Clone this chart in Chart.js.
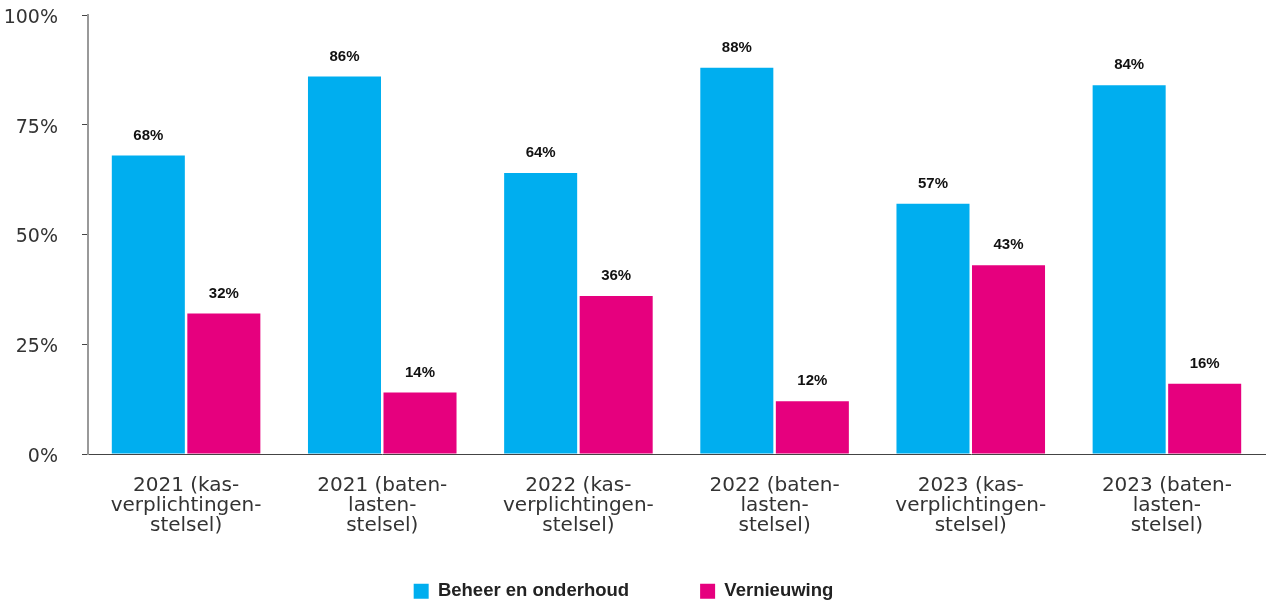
<!DOCTYPE html>
<html>
<head>
<meta charset="utf-8">
<script src="https://cdn.jsdelivr.net/npm/chart.js@4"></script>
<style>
  html, body { margin: 0; padding: 0; background: #fff; }
  #wrap { width: 1269px; height: 603px; position: relative; }
</style>
</head>
<body>
<div id="wrap"><canvas id="chart"></canvas></div>
<script>
const categories = [
    ['2021 (kas-', 'verplichtingen-', 'stelsel)'],
    ['2021 (baten-', 'lasten-', 'stelsel)'],
    ['2022 (kas-', 'verplichtingen-', 'stelsel)'],
    ['2022 (baten-', 'lasten-', 'stelsel)'],
    ['2023 (kas-', 'verplichtingen-', 'stelsel)'],
    ['2023 (baten-', 'lasten-', 'stelsel)']
];
const seriesNames = ['Beheer en onderhoud', 'Vernieuwing'];
const beheer = [68, 86, 64, 88, 57, 84];
const vernieuwing = [32, 14, 36, 12, 43, 16];
const yTicks = [0, 25, 50, 75, 100];

const sansFont = '"Liberation Sans", Arial, sans-serif';
const tickFont = '"DejaVu Sans", sans-serif';

// draws the value above each bar
const valueLabels = {
    id: 'valueLabels',
    afterDatasetsDraw(chart) {
        const ctx = chart.ctx;
        ctx.save();
        ctx.font = 'bold 15px ' + sansFont;
        ctx.fillStyle = '#111';
        ctx.textAlign = 'center';
        ctx.textBaseline = 'middle';
        chart.data.datasets.forEach((ds, i) => {
            chart.getDatasetMeta(i).data.forEach((bar, j) => {
                ctx.fillText(ds.data[j] + '%', bar.x, bar.y - 20);
            });
        });
        ctx.restore();
    }
};

// legend keeps wide spacing between items but takes less height
const legendTweak = {
    id: 'legendTweak',
    beforeInit(chart) {
        const legend = chart.legend;
        const fit = legend.fit;
        legend.fit = function () {
            fit.call(this);
            this.height = 63;
        };
        const draw = legend.draw;
        legend.draw = function () {
            this.top -= 29; this.left -= 11; this.right -= 11;
            draw.call(this);
            this.top += 29; this.left += 11; this.right += 11;
        };
    }
};

new Chart(document.getElementById('chart').getContext('2d'), {
    type: 'bar',
    data: {
        labels: categories,
        datasets: [{
            label: seriesNames[0],
            data: beheer,
            backgroundColor: '#00AEEF',
            categoryPercentage: 0.77,
            barPercentage: 0.967
        }, {
            label: seriesNames[1],
            data: vernieuwing,
            backgroundColor: '#E6007E',
            categoryPercentage: 0.77,
            barPercentage: 0.967
        }]
    },
    options: {
        responsive: true,
        maintainAspectRatio: false,
        animation: false,
        layout: { padding: { top: 15, right: 4, left: 4, bottom: 0 } },
        plugins: {
            tooltip: { enabled: false },
            legend: {
                position: 'bottom',
                labels: {
                    boxWidth: 15,
                    boxHeight: 15,
                    padding: 71,
                    color: '#222',
                    font: { family: sansFont, size: 18.5, weight: 'bold' }
                }
            }
        },
        scales: {
            x: {
                grid: { display: false },
                border: { display: true, color: '#444', width: 1 },
                afterFit: axis => { axis.height = 86; },
                ticks: {
                    color: '#333',
                    padding: 14,
                    maxRotation: 0,
                    autoSkip: false,
                    font: { family: tickFont, size: 20, lineHeight: '20px' }
                }
            },
            y: {
                min: 0,
                max: 100,
                afterBuildTicks: axis => { axis.ticks = yTicks.map(v => ({ value: v })); },
                afterFit: axis => {
                    axis.width = 84;
                    axis.paddingTop = 0;
                    axis.paddingBottom = 0;
                },
                grid: { drawOnChartArea: false, drawTicks: true, tickLength: 6, color: '#444' },
                border: { display: true, color: '#999', width: 2 },
                ticks: {
                    color: '#333',
                    padding: 24,
                    labelOffset: 3,
                    font: { family: tickFont, size: 19 },
                    callback: v => v + '%'
                }
            }
        }
    },
    plugins: [valueLabels, legendTweak]
});
</script>
</body>
</html>
